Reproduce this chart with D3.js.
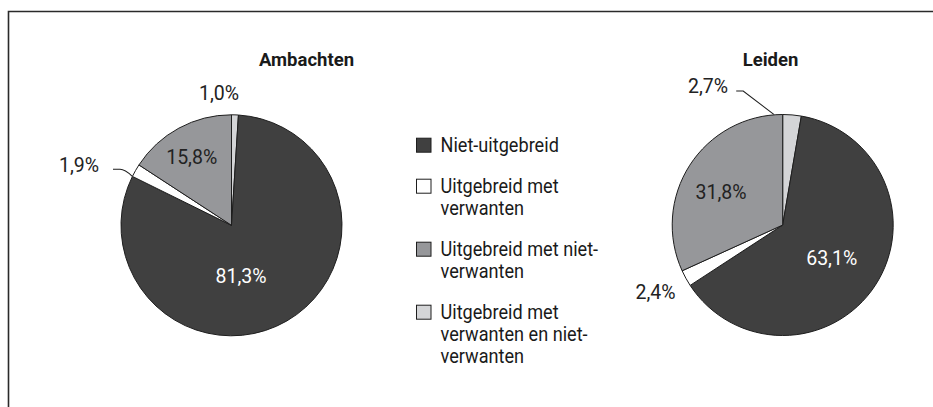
<!DOCTYPE html>
<html><head><meta charset="utf-8">
<script src="https://cdn.jsdelivr.net/npm/d3@7"></script>
<style>
html,body{margin:0;padding:0;background:#fff;}
svg{display:block;font-family:Roboto,"Liberation Sans",Arial,sans-serif;}
</style></head>
<body><svg id="c" width="933" height="407"></svg>
<script>
// ---- data ----
const categories = ["Uitgebreid met verwanten en niet-verwanten","Niet-uitgebreid","Uitgebreid met verwanten","Uitgebreid met niet-verwanten"];
const ambachtenValues = [1.0, 81.3, 1.9, 15.8];
const leidenValues = [2.7, 63.1, 2.4, 31.8];
const pieTitles = ["Ambachten", "Leiden"];
const valueLabelsAmbachten = ["1,0%", "81,3%", "1,9%", "15,8%"];
const valueLabelsLeiden = ["2,7%", "63,1%", "2,4%", "31,8%"];
const legendOrder = ["Niet-uitgebreid","Uitgebreid met verwanten","Uitgebreid met niet-verwanten","Uitgebreid met verwanten en niet-verwanten"];
const legendLines = [["Niet-uitgebreid"],["Uitgebreid met","verwanten"],["Uitgebreid met niet-","verwanten"],["Uitgebreid met","verwanten en niet-","verwanten"]];

// ---- style/layout ----
const colors = d3.scaleOrdinal().domain(categories).range(["#d4d5d7","#404040","#ffffff","#96979a"]);
const labelFill = ["#222","#fff","#222","#222"];
const R = 110.5;
const pies = [
  {title: pieTitles[0], values: ambachtenValues, labels: valueLabelsAmbachten, cx: 231.5, cy: 225.3, titleX: 306.5,
   offs: [[-12.5,-125.3],[9.5,57.4],[-152.5,-53.6],[-39.8,-61.3]], leader: {i:2, from:[-118.5,-56]}},
  {title: pieTitles[1], values: leidenValues, labels: valueLabelsLeiden, cx: 782.7, cy: 225, titleX: 770.5,
   offs: [[-74.7,-131.7],[49,40],[-127.2,74.3],[-61.7,-25.7]], leader: {i:0, from:[-46.5,-134], tip:-4.6}}
];

const svg = d3.select("#c");
// frame
svg.append("path").attr("d","M8.5,407 L8.5,11.5 L933,11.5").attr("fill","none").attr("stroke","#2a2a2a").attr("stroke-width",1.6);

const pie = d3.pie().sort(null).value(d => d.v);
const arc = d3.arc().innerRadius(0).outerRadius(R);

pies.forEach(p => {
  const g = svg.append("g").attr("transform", `translate(${p.cx},${p.cy})`);
  const data = pie(p.values.map((v,i) => ({v, cat: categories[i]})));
  g.selectAll("path.s").data(data).join("path").attr("class","s")
    .attr("d", arc).attr("fill", d => colors(d.data.cat))
    .attr("stroke", "#1e1e1e").attr("stroke-width", 1).attr("stroke-linejoin","round");
  // title
  svg.append("text").attr("x", p.titleX).attr("y", 66).attr("text-anchor","middle")
    .attr("font-weight","bold").attr("font-size", 18.5).attr("fill","#1a1a1a").text(p.title);
  // value labels
  g.selectAll("text.v").data(data).join("text").attr("class","v")
    .attr("x", (d,i) => p.offs[i][0]).attr("y", (d,i) => p.offs[i][1])
    .attr("text-anchor","middle").attr("font-size", 19.5)
    .attr("fill", (d,i) => labelFill[i]).text((d,i) => p.labels[i]);
  // leader line
  const L = p.leader, d = data[L.i];
  const a = (L.tip !== undefined ? L.tip * Math.PI/180 : d.startAngle);
  const ex = (R+0.5) * Math.sin(a), ey = -(R+0.5) * Math.cos(a);
  const [fx, fy] = L.from;
  const path = d3.path();
  path.moveTo(fx, fy); path.lineTo(fx + 7, fy);
  if (p === pies[0]) path.quadraticCurveTo(fx + 12, fy, ex, ey);
  else path.lineTo(ex, ey);
  g.append("path").attr("d", path.toString()).attr("fill","none").attr("stroke","#1e1e1e").attr("stroke-width",1.1);
});

// legend
const lg = svg.append("g");
let y = 151.7;
legendOrder.forEach((cat, i) => {
  lg.append("rect").attr("x", 416.5).attr("y", y - 13.5).attr("width", 14.5).attr("height", 14)
    .attr("fill", colors(cat)).attr("stroke","#1e1e1e").attr("stroke-width",1);
  legendLines[i].forEach((ln, j) => {
    lg.append("text").attr("transform", `translate(440.5,${y + j*22}) scale(0.93,1)`)
      .attr("font-size", 19.5).attr("fill","#1a1a1a").text(ln);
  });
  y += (legendLines[i].length - 1) * 22 + 41;
});
</script></body></html>
